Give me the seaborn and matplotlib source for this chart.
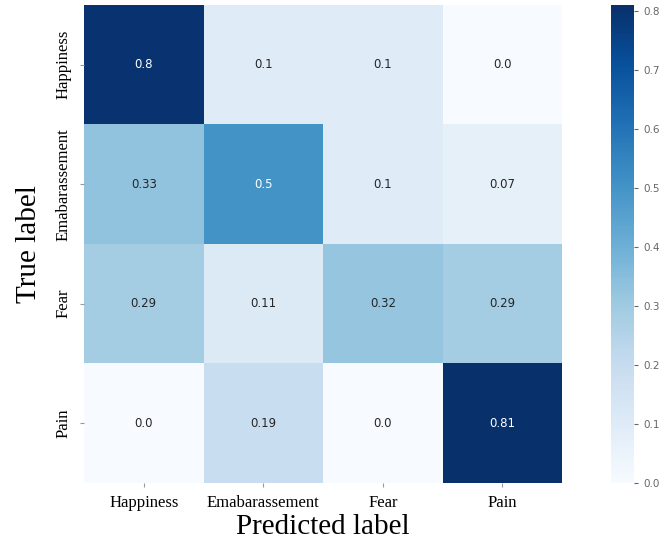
import numpy as np
import pandas as pd
import matplotlib
matplotlib.use('Agg')
import matplotlib.pyplot as plt
import seaborn as sns

# Matriz de confusión normalizada
labels = ['Happiness', 'Emabarassement', 'Fear', 'Pain']
row_happiness = [0.8, 0.1, 0.1, 0.0]
row_embarrass = [0.33, 0.5, 0.1, 0.07]
row_fear = [0.29, 0.11, 0.32, 0.29]
row_pain = [0.0, 0.19, 0.0, 0.81]

cm = pd.DataFrame([row_happiness, row_embarrass, row_fear, row_pain],
                  index=labels, columns=labels)
# texto de las celdas (0.0 en vez de 0)
annot = cm.map(lambda v: str(v)).values

fig = plt.figure(figsize=(6.64, 5.45), dpi=100)
ax = fig.add_axes([0.1265, 0.114, 0.72, 0.877])
cax = fig.add_axes([0.920, 0.114, 0.035, 0.877])

sns.heatmap(cm, annot=annot, fmt='', cmap='Blues', vmin=0, vmax=0.81,
            ax=ax, cbar_ax=cax, annot_kws={'fontsize': 8.5})

serif = 'Liberation Serif'
ax.set_xticklabels(labels, fontfamily=serif, fontsize=12, rotation=0)
ax.set_yticklabels(labels, fontfamily=serif, fontsize=12, rotation=90, va='center')
ax.tick_params(axis='both', length=3, color='#999999', pad=6)
ax.set_xlabel('Predicted label', fontfamily=serif, fontsize=21, labelpad=2)
ax.set_ylabel('True label', fontfamily=serif, fontsize=21, labelpad=10)

cax.set_yticks([0.0, 0.1, 0.2, 0.3, 0.4, 0.5, 0.6, 0.7, 0.8])
cax.tick_params(labelsize=7.5, colors='#666666', length=3)
for s in cax.spines.values():
    s.set_visible(False)

fig.savefig('out.png', dpi=100)
